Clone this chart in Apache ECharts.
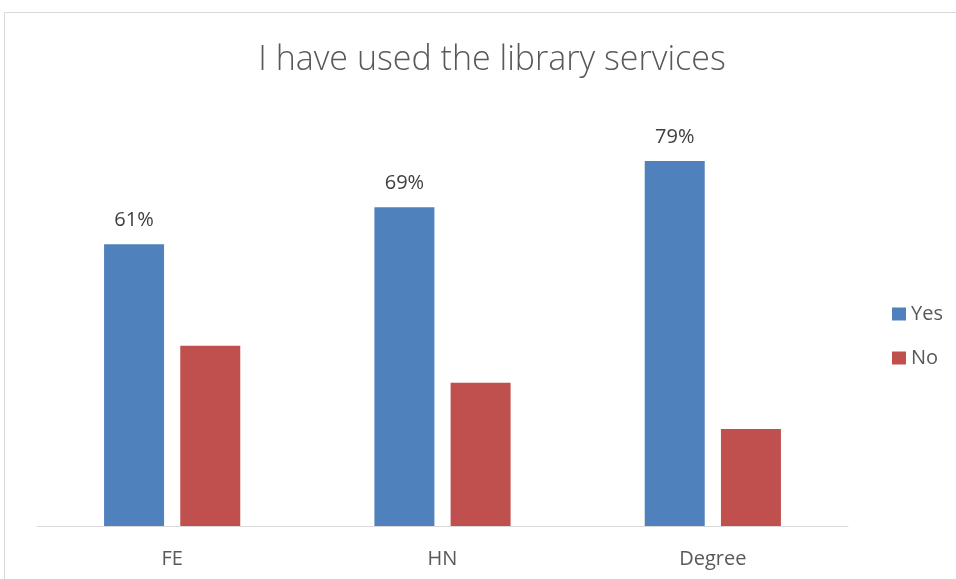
<!DOCTYPE html>
<html>
<head>
<meta charset="utf-8">
<script src="https://cdn.jsdelivr.net/npm/echarts@6/dist/echarts.min.js"></script>
<style>
  html, body { margin: 0; padding: 0; background: #fff; }
  #chart { width: 956px; height: 579px; }
</style>
</head>
<body>
<div id="chart"></div>
<script>
// Survey responses by study level
const categories = ['FE', 'HN', 'Degree'];
const yesValues = [61, 69, 79];
const noValues = [39, 31, 21];

const chart = echarts.init(document.getElementById('chart'));
const font = '"Open Sans", "Liberation Sans", sans-serif';

chart.setOption({
  backgroundColor: '#ffffff',
  animation: false,
  title: {
    text: 'I have used the library services',
    left: 487,
    top: 38,
    textAlign: 'center',
    textStyle: { fontFamily: font, fontSize: 34, fontWeight: 300, color: '#595959' }
  },
  graphic: [{
    type: 'rect',
    shape: { x: 4.5, y: 12.5, width: 1000, height: 700 },
    style: { fill: 'none', stroke: '#D9D9D9', lineWidth: 1 },
    silent: true
  }],
  legend: {
    orient: 'vertical',
    left: 887,
    top: 299,
    itemWidth: 14,
    itemHeight: 13,
    itemGap: 24,
    icon: 'rect',
    textStyle: { fontFamily: font, fontSize: 20, color: '#595959' },
    data: ['Yes', 'No']
  },
  grid: { left: 37, right: 108, top: 64, bottom: 53 },
  xAxis: {
    type: 'category',
    data: categories,
    axisLine: { lineStyle: { color: '#D9D9D9', width: 1 } },
    axisTick: { show: false },
    axisLabel: { fontFamily: font, fontSize: 20, color: '#595959', margin: 23 }
  },
  yAxis: {
    type: 'value',
    min: 0,
    max: 100,
    show: false,
    splitLine: { show: false }
  },
  series: [
    {
      name: 'Yes',
      type: 'bar',
      data: yesValues,
      barWidth: 60,
      barGap: '27%',
      itemStyle: { color: '#4F81BD' },
      label: {
        show: true,
        position: 'top',
        distance: 14,
        formatter: p => p.value + '%',
        fontFamily: font,
        fontSize: 20,
        color: '#404040'
      }
    },
    {
      name: 'No',
      type: 'bar',
      data: noValues,
      barWidth: 60,
      itemStyle: { color: '#C0504D' }
    }
  ]
});
</script>
</body>
</html>
